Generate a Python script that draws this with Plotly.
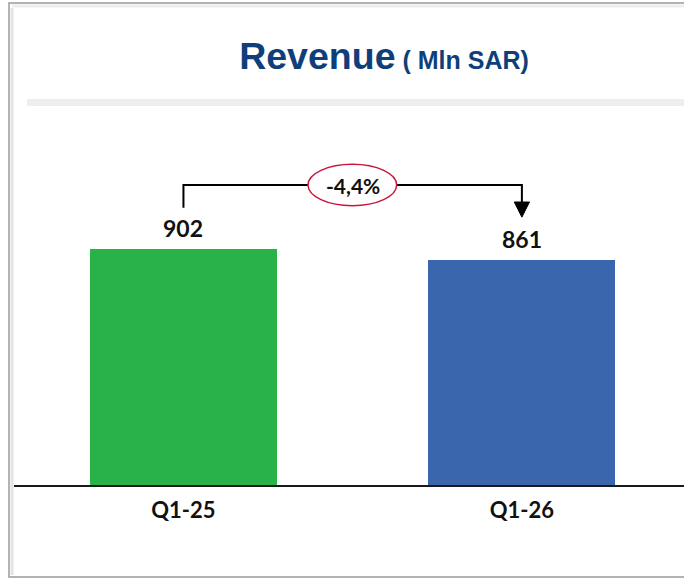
import plotly.graph_objects as go

categories = ["Q1-25", "Q1-26"]
values = [902, 861]
bar_colors = ["#29B24A", "#3966AD"]
change_label = "-4,4%"

W, H = 684, 580
ML, MR, MT, MB = 14, 0, 100, 95
plot_w = W - ML - MR
plot_h = H - MT - MB

def px_x(p):
    return (p - ML) / plot_w

def px_y(p):
    return (H - MB - p) / plot_h

FONT = "Lato, Carlito, Calibri, sans-serif"
label_font = dict(family=FONT, size=23, color="#111111")

fig = go.Figure()
fig.add_trace(go.Bar(
    x=[0, 1], y=values, marker=dict(color=bar_colors, line=dict(width=0)),
    width=0.553, hoverinfo="skip",
))

y_h = 1147    # bracket horizontal level (data units)
y_left = 1060
y_tip = 1024
y_head = 1082
hw = 0.0225

shapes = [
    # frame
    dict(type="rect", xref="paper", yref="paper", x0=px_x(9), x1=px_x(700), y0=px_y(577), y1=px_y(3),
         line=dict(color="#9a9a9a", width=1.5), fillcolor="rgba(0,0,0,0)", layer="below"),
    dict(type="line", xref="paper", yref="paper", x0=px_x(12), x1=px_x(12), y0=px_y(575), y1=px_y(8),
         line=dict(color="#e4e4e4", width=3), layer="below"),
    dict(type="line", xref="paper", yref="paper", x0=px_x(12), x1=px_x(700), y0=px_y(6), y1=px_y(6),
         line=dict(color="#eeeeee", width=3), layer="below"),
    # gray band under title
    dict(type="rect", xref="paper", yref="paper", x0=px_x(27), x1=px_x(700), y0=px_y(106), y1=px_y(99),
         line=dict(width=0), fillcolor="#eeeeee", layer="below"),
    # bracket
    dict(type="path", xref="x", yref="y",
         path=f"M 0,{y_left} L 0,{y_h} L 1,{y_h} L 1,{y_head}",
         line=dict(color="#000000", width=2)),
    dict(type="path", xref="x", yref="y",
         path=f"M {1 - hw},{y_head} L {1 + hw},{y_head} L 1,{y_tip} Z",
         line=dict(color="#000000", width=1), fillcolor="#000000"),
    dict(type="circle", xref="x", yref="y", x0=0.368, x1=0.630, y0=1068, y1=1226,
         line=dict(color="#C8163C", width=1.5), fillcolor="#ffffff"),
]

annotations = [
    dict(x=0.5, y=y_h, xref="x", yref="y", text=f"<b>{change_label}</b>", showarrow=False,
         yanchor="middle", font=dict(family=FONT, size=21, color="#111111")),
]
for i, v in enumerate(values):
    annotations.append(dict(x=i, y=v, xref="x", yref="y", text=f"<b>{v}</b>", showarrow=False,
                            yanchor="bottom", yshift=5, font=label_font))

fig.update_layout(
    width=W, height=H,
    margin=dict(l=ML, r=MR, t=MT, b=MB),
    paper_bgcolor="#ffffff", plot_bgcolor="#ffffff",
    showlegend=False,
    bargap=0,
    title=dict(
        text="<b>Revenue</b><span style='font-size:25px'> <b>( Mln SAR)</b></span>",
        x=384 / W, xref="container", xanchor="center",
        y=1 - 56 / H, yref="container", yanchor="middle",
        font=dict(family="Liberation Sans, Arial, sans-serif", size=37.5, color="#0F3F7B"),
    ),
    xaxis=dict(
        range=[-0.5007, 1.479], tickmode="array", tickvals=[0, 1],
        ticktext=[f"<b>{c}</b>" for c in categories],
        tickfont=dict(family=FONT, size=22, color="#111111"), showgrid=False, zeroline=False,
        showline=True, linecolor="#1a1a1a", linewidth=2,
        ticks="outside", ticklen=5, tickcolor="rgba(0,0,0,0)",
    ),
    yaxis=dict(range=[0, 1472], visible=False, showgrid=False, zeroline=False),
    shapes=shapes,
    annotations=annotations,
)

fig.write_html(
    "out.html",
    config={"displayModeBar": False},
    post_script="document.body.style.margin='0';document.body.style.padding='0';document.body.style.overflow='hidden';",
)
